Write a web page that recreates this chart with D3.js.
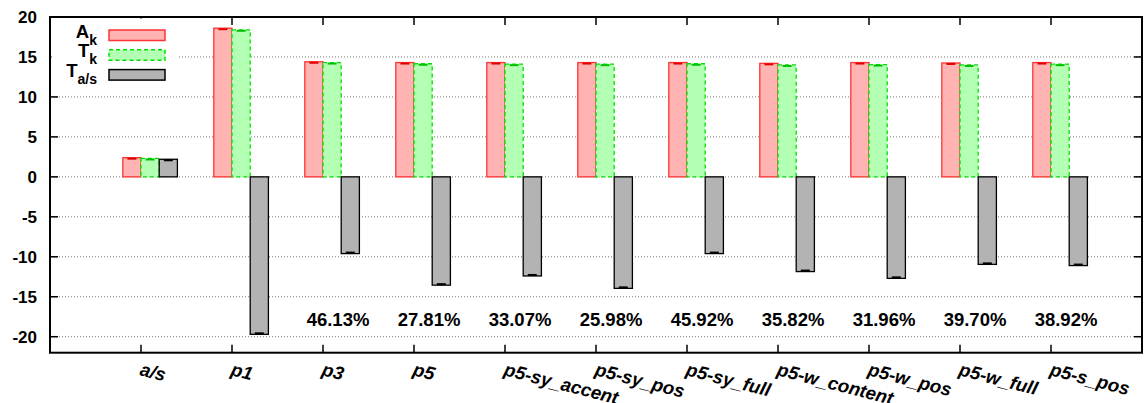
<!DOCTYPE html>
<html>
<head>
<meta charset="utf-8">
<script src="https://cdn.jsdelivr.net/npm/d3@7"></script>
<style>
  html, body { margin: 0; padding: 0; background: #fff; }
  svg { display: block; }
  text { font-family: "Liberation Sans", Arial, Helvetica, sans-serif; font-weight: bold; fill: #000; }
</style>
</head>
<body>
<svg id="chart" width="1144" height="403"></svg>
<script>
// ---- data ----
const categories = ["a/s", "p1", "p3", "p5", "p5-sy_accent", "p5-sy_pos", "p5-sy_full", "p5-w_content", "p5-w_pos", "p5-w_full", "p5-s_pos"];
const seriesA  = [2.4, 18.6, 14.4, 14.3, 14.3, 14.3, 14.3, 14.2, 14.3, 14.25, 14.3];
const seriesT  = [2.3, 18.4, 14.3, 14.15, 14.1, 14.1, 14.15, 14.0, 14.05, 14.0, 14.1];
const seriesTas = [2.2, -19.7, -9.6, -13.55, -12.4, -13.95, -9.6, -11.85, -12.7, -10.95, -11.1];
const pctCategories = ["p3", "p5", "p5-sy_accent", "p5-sy_pos", "p5-sy_full", "p5-w_content", "p5-w_pos", "p5-w_full", "p5-s_pos"];
const pctLabels = ["46.13%", "27.81%", "33.07%", "25.98%", "45.92%", "35.82%", "31.96%", "39.70%", "38.92%"];
const pctY = -18.6;
const yTicks = [-20, -15, -10, -5, 0, 5, 10, 15, 20];
const legendNames = [["A", "k"], ["T", "k"], ["T", "a/s"]];

// ---- layout ----
const L = 50, R = 1142, T = 17, B = 352.7;
const svg = d3.select("#chart");
const x = d3.scaleLinear().domain([0, categories.length + 1]).range([L, R]);
const y = d3.scaleLinear().domain([-22, 20]).range([B, T]);
const pos = c => categories.indexOf(c) + 1;

const styles = [
  { data: seriesA,  off: -0.2, fill: "#ffb3b3", stroke: "#ff3333", dash: null, cap: "#e00000" },
  { data: seriesT,  off: 0.0,  fill: "#b3ffb3", stroke: "#00e000", dash: "4,3", cap: "#00c000" },
  { data: seriesTas, off: 0.2, fill: "#b3b3b3", stroke: "#000", dash: null, cap: "#000" }
];

// grid
svg.append("g").selectAll("line").data(yTicks).join("line")
  .attr("x1", L).attr("x2", R)
  .attr("y1", d => y(d)).attr("y2", d => y(d))
  .attr("stroke", "#777").attr("stroke-width", 1).attr("stroke-dasharray", "1,2");

// bars
const bw = x(0.2) - x(0);
styles.forEach(s => {
  const g = svg.append("g");
  g.selectAll("rect").data(s.data).join("rect")
    .attr("x", (d, i) => x(i + 1 + s.off))
    .attr("width", bw)
    .attr("y", d => Math.min(y(d), y(0)))
    .attr("height", d => Math.abs(y(d) - y(0)))
    .attr("fill", s.fill)
    .attr("stroke", s.stroke)
    .attr("stroke-width", 1.3)
    .attr("stroke-dasharray", s.dash);
  g.selectAll("line").data(s.data).join("line")
    .attr("x1", (d, i) => x(i + 1 + s.off + 0.1) - 4.5)
    .attr("x2", (d, i) => x(i + 1 + s.off + 0.1) + 4.5)
    .attr("y1", d => y(d) + (d < 0 ? -1 : 1))
    .attr("y2", d => y(d) + (d < 0 ? -1 : 1))
    .attr("stroke", s.cap).attr("stroke-width", 2);
});

// border
svg.append("rect").attr("x", L).attr("y", T).attr("width", R - L).attr("height", B - T)
  .attr("fill", "none").attr("stroke", "#000").attr("stroke-width", 2);

// y ticks (inward, left and right)
const yt = svg.append("g");
yt.selectAll("line.l").data(yTicks).join("line").attr("class", "l")
  .attr("x1", L).attr("x2", L + 8).attr("y1", d => y(d)).attr("y2", d => y(d))
  .attr("stroke", "#000").attr("stroke-width", 1.5);
yt.selectAll("line.r").data(yTicks).join("line").attr("class", "r")
  .attr("x1", R - 8).attr("x2", R).attr("y1", d => y(d)).attr("y2", d => y(d))
  .attr("stroke", "#000").attr("stroke-width", 1.5);
yt.selectAll("text").data(yTicks).join("text")
  .attr("x", 37).attr("y", d => y(d)).attr("dy", "0.36em")
  .attr("text-anchor", "end").attr("font-size", 17)
  .text(d => d);

// x ticks (inward, top and bottom)
const xt = svg.append("g");
xt.selectAll("line.b").data(categories).join("line").attr("class", "b")
  .attr("x1", c => x(pos(c))).attr("x2", c => x(pos(c)))
  .attr("y1", B).attr("y2", B - 8).attr("stroke", "#000").attr("stroke-width", 1.5);
xt.selectAll("line.t").data(categories).join("line").attr("class", "t")
  .attr("x1", c => x(pos(c))).attr("x2", c => x(pos(c)))
  .attr("y1", T).attr("y2", T + 8).attr("stroke", "#000").attr("stroke-width", 1.5);
xt.selectAll("text").data(categories).join("text")
  .attr("transform", c => `translate(${x(pos(c)) - 2},375) rotate(14.5)`)
  .attr("font-style", "italic").attr("font-size", 18.5)
  .text(c => c);

// percentage labels
svg.append("g").selectAll("text").data(pctLabels).join("text")
  .attr("x", (d, i) => x(pos(pctCategories[i])) + 15)
  .attr("y", y(pctY))
  .attr("text-anchor", "middle").attr("font-size", 18.5)
  .text(d => d);

// legend
const lg = svg.append("g");
lg.append("rect").attr("x", L + 1.5).attr("y", T + 1.5).attr("width", 126).attr("height", 70).attr("fill", "#fff");
legendNames.forEach((n, i) => {
  const by = 37.5 + i * 19.8;
  const t = lg.append("text").attr("x", 97).attr("y", by).attr("text-anchor", "end").attr("font-size", 18.5);
  t.append("tspan").text(n[0]);
  t.append("tspan").attr("dy", 7).attr("font-size", 14).text(n[1]);
  const s = styles[i];
  lg.append("rect").attr("x", 109).attr("y", by - 7.5).attr("width", 56).attr("height", 10.5)
    .attr("fill", s.fill).attr("stroke", s.stroke).attr("stroke-width", 1.5)
    .attr("stroke-dasharray", s.dash);
});
</script>
</body>
</html>
